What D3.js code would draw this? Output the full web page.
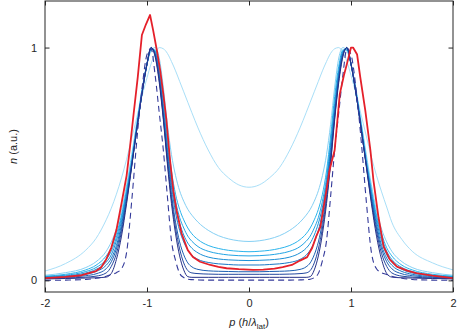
<!DOCTYPE html>
<html>
<head>
<meta charset="utf-8">
<script src="https://cdn.jsdelivr.net/npm/d3@7"></script>
<style>
  html, body { margin: 0; padding: 0; background: #fff; }
  svg { display: block; font-family: "Liberation Sans", Arial, sans-serif; }
</style>
</head>
<body>
<svg id="chart" width="458" height="333"></svg>
<script>
// ---- data ----
const pGrid = [-2, -1.8, -1.6, -1.5, -1.4, -1.35, -1.3, -1.25, -1.2, -1.15, -1.1, -1.05, -1.0, -0.96, -0.92, -0.88, -0.84, -0.8, -0.76, -0.72, -0.68, -0.64, -0.6, -0.56, -0.5, -0.4, -0.3, -0.2, -0.1, 0,
  0.1, 0.2, 0.3, 0.4, 0.5, 0.56, 0.6, 0.64, 0.68, 0.72, 0.76, 0.8, 0.84, 0.88, 0.92, 0.96, 1.0, 1.05, 1.1, 1.15, 1.2, 1.25, 1.3, 1.35, 1.4, 1.5, 1.6, 1.8, 2];

const curve0 = [0.04, 0.072, 0.13, 0.18, 0.26, 0.31, 0.37, 0.44, 0.52, 0.61, 0.70, 0.79, 0.87, 0.93, 0.975, 1.0, 0.995, 0.975, 0.94, 0.9, 0.855, 0.81, 0.765, 0.72, 0.655, 0.56, 0.485, 0.44, 0.41, 0.40,
  0.41, 0.44, 0.485, 0.56, 0.655, 0.72, 0.765, 0.81, 0.855, 0.9, 0.94, 0.975, 0.995, 1.0, 0.98, 0.94, 0.88, 0.8, 0.71, 0.62, 0.53, 0.45, 0.38, 0.315, 0.25, 0.175, 0.125, 0.075, 0.045];
const curve1 = [0.022, 0.033, 0.055, 0.08, 0.125, 0.165, 0.22, 0.30, 0.41, 0.54, 0.68, 0.82, 0.93, 0.985, 1.0, 0.955, 0.83, 0.67, 0.54, 0.45, 0.385, 0.34, 0.305, 0.28, 0.25, 0.215, 0.192, 0.178, 0.17, 0.167,
  0.17, 0.178, 0.192, 0.215, 0.25, 0.28, 0.305, 0.34, 0.385, 0.45, 0.54, 0.67, 0.83, 0.955, 1.0, 0.985, 0.93, 0.82, 0.68, 0.54, 0.41, 0.30, 0.22, 0.165, 0.125, 0.08, 0.055, 0.033, 0.022];
const curve2 = [0.018, 0.026, 0.045, 0.065, 0.105, 0.14, 0.2, 0.28, 0.39, 0.52, 0.67, 0.81, 0.93, 0.99, 0.99, 0.92, 0.79, 0.62, 0.47, 0.37, 0.305, 0.26, 0.225, 0.2, 0.175, 0.15, 0.137, 0.129, 0.125, 0.123,
  0.125, 0.129, 0.137, 0.15, 0.175, 0.2, 0.225, 0.26, 0.305, 0.37, 0.47, 0.62, 0.79, 0.92, 0.99, 0.99, 0.93, 0.81, 0.67, 0.52, 0.39, 0.28, 0.2, 0.14, 0.105, 0.065, 0.045, 0.026, 0.018];
const curve3 = [0.016, 0.022, 0.038, 0.055, 0.09, 0.125, 0.185, 0.27, 0.38, 0.51, 0.66, 0.81, 0.93, 0.995, 0.985, 0.9, 0.76, 0.59, 0.44, 0.34, 0.27, 0.225, 0.19, 0.168, 0.145, 0.125, 0.115, 0.109, 0.106, 0.105,
  0.106, 0.109, 0.115, 0.125, 0.145, 0.168, 0.19, 0.225, 0.27, 0.34, 0.44, 0.59, 0.76, 0.9, 0.985, 0.995, 0.93, 0.81, 0.66, 0.51, 0.38, 0.27, 0.185, 0.125, 0.09, 0.055, 0.038, 0.022, 0.016];
const curve4 = [0.014, 0.019, 0.032, 0.047, 0.078, 0.11, 0.17, 0.255, 0.37, 0.5, 0.65, 0.8, 0.925, 0.995, 0.98, 0.89, 0.74, 0.57, 0.42, 0.315, 0.245, 0.195, 0.16, 0.138, 0.118, 0.1, 0.092, 0.088, 0.086, 0.085,
  0.086, 0.088, 0.092, 0.1, 0.118, 0.138, 0.16, 0.195, 0.245, 0.315, 0.42, 0.57, 0.74, 0.89, 0.98, 0.995, 0.925, 0.8, 0.65, 0.5, 0.37, 0.255, 0.17, 0.11, 0.078, 0.047, 0.032, 0.019, 0.014];
const curve5 = [0.012, 0.016, 0.026, 0.038, 0.065, 0.095, 0.15, 0.24, 0.36, 0.5, 0.65, 0.8, 0.93, 1.0, 0.975, 0.88, 0.72, 0.55, 0.4, 0.29, 0.215, 0.165, 0.13, 0.108, 0.09, 0.077, 0.071, 0.068, 0.066, 0.066,
  0.066, 0.068, 0.071, 0.077, 0.09, 0.108, 0.13, 0.165, 0.215, 0.29, 0.4, 0.55, 0.72, 0.88, 0.975, 1.0, 0.93, 0.8, 0.65, 0.5, 0.36, 0.24, 0.15, 0.095, 0.065, 0.038, 0.026, 0.016, 0.012];
const curve6 = [0.01, 0.013, 0.02, 0.028, 0.05, 0.08, 0.135, 0.225, 0.35, 0.495, 0.65, 0.8, 0.93, 1.0, 0.97, 0.87, 0.71, 0.53, 0.37, 0.25, 0.165, 0.11, 0.075, 0.058, 0.047, 0.041, 0.039, 0.038, 0.037, 0.037,
  0.037, 0.038, 0.039, 0.041, 0.047, 0.058, 0.075, 0.11, 0.165, 0.25, 0.37, 0.53, 0.71, 0.87, 0.97, 1.0, 0.93, 0.8, 0.65, 0.495, 0.35, 0.225, 0.135, 0.08, 0.05, 0.028, 0.02, 0.013, 0.01];
const curve7 = [0.008, 0.01, 0.014, 0.018, 0.032, 0.06, 0.115, 0.21, 0.34, 0.49, 0.65, 0.8, 0.93, 1.0, 0.965, 0.86, 0.7, 0.51, 0.35, 0.225, 0.135, 0.075, 0.042, 0.032, 0.029, 0.027, 0.026, 0.026, 0.026, 0.026,
  0.026, 0.026, 0.026, 0.027, 0.029, 0.032, 0.042, 0.075, 0.135, 0.225, 0.35, 0.51, 0.7, 0.86, 0.965, 1.0, 0.93, 0.8, 0.65, 0.49, 0.34, 0.21, 0.115, 0.06, 0.032, 0.018, 0.014, 0.01, 0.008];
const curve8 = [0.006, 0.008, 0.01, 0.011, 0.014, 0.03, 0.09, 0.19, 0.33, 0.49, 0.65, 0.8, 0.93, 1.0, 0.96, 0.85, 0.69, 0.5, 0.33, 0.2, 0.105, 0.045, 0.016, 0.013, 0.013, 0.013, 0.013, 0.013, 0.013, 0.013,
  0.013, 0.013, 0.013, 0.013, 0.013, 0.013, 0.016, 0.045, 0.105, 0.2, 0.33, 0.5, 0.69, 0.85, 0.96, 1.0, 0.93, 0.8, 0.65, 0.49, 0.33, 0.19, 0.09, 0.03, 0.014, 0.011, 0.01, 0.008, 0.006];
const dashedCurve = [0.0, 0.001, 0.004, 0.009, 0.018, 0.025, 0.033, 0.05, 0.12, 0.34, 0.6, 0.82, 0.97, 0.995, 0.88, 0.72, 0.56, 0.36, 0.17, 0.085, 0.03, 0.012, 0.005, 0.003, 0.002, 0.001, 0.001, 0.001, 0.001, 0.001,
  0.001, 0.001, 0.001, 0.001, 0.002, 0.003, 0.005, 0.012, 0.03, 0.085, 0.17, 0.36, 0.56, 0.72, 0.88, 0.995, 0.97, 0.82, 0.6, 0.34, 0.12, 0.05, 0.033, 0.025, 0.018, 0.009, 0.004, 0.001, 0.0];

const redP = [-2, -1.8, -1.64, -1.5, -1.45, -1.4, -1.35, -1.3, -1.25, -1.2, -1.17, -1.13, -1.09, -1.05, -1.01, -0.97, -0.94, -0.9, -0.87, -0.84, -0.81, -0.775, -0.74, -0.71, -0.66, -0.6, -0.55, -0.48, -0.38, -0.3, -0.22, -0.1, 0.04, 0.14, 0.25, 0.33, 0.42, 0.5, 0.57, 0.62, 0.66, 0.7, 0.73, 0.76, 0.79, 0.84, 0.89, 0.93, 0.96, 1.0, 1.02, 1.06, 1.09, 1.14, 1.19, 1.22, 1.27, 1.32, 1.38, 1.45, 1.55, 1.64, 1.8, 2];
const redN = [0.01, 0.015, 0.022, 0.04, 0.055, 0.09, 0.14, 0.216, 0.33, 0.45, 0.56, 0.72, 0.875, 1.054, 1.1, 1.14, 1.075, 0.98, 0.9, 0.8, 0.69, 0.52, 0.38, 0.3, 0.2, 0.13, 0.1, 0.08, 0.066, 0.058, 0.052, 0.048, 0.045, 0.046, 0.05, 0.057, 0.066, 0.085, 0.1, 0.14, 0.19, 0.23, 0.31, 0.39, 0.474, 0.56, 0.8, 0.88, 0.93, 1.0, 1.0, 0.97, 0.875, 0.73, 0.56, 0.43, 0.27, 0.145, 0.09, 0.059, 0.042, 0.031, 0.02, 0.01];

const xTicks = [-2, -1, 0, 1, 2];
const yTicks = [0, 1];

(function () {
  // ---- styles ----
  const blueSeries = [curve0, curve1, curve2, curve3, curve4, curve5, curve6, curve7, curve8];
  const blueColors = ["#a9dff8", "#85d0f4", "#2ab4ec", "#22a4e4", "#1b8fd6", "#1a78c6", "#1d5fb2", "#22469e", "#263087"];

  const svg = d3.select("#chart");
  const mL = 45, mR = 453, mT = 1, mB = 292;
  const x = d3.scaleLinear().domain([-2, 2]).range([mL, mR]);
  const y = d3.scaleLinear().domain([-0.05, 1.2]).range([mB, mT]);

  svg.append("defs").append("clipPath").attr("id", "clip")
    .append("rect").attr("x", mL).attr("y", mT).attr("width", mR - mL).attr("height", mB - mT);

  const g = svg.append("g").attr("clip-path", "url(#clip)");
  const smooth = d3.line().x(d => x(d[0])).y(d => y(d[1])).curve(d3.curveMonotoneX);
  const straight = d3.line().x(d => x(d[0])).y(d => y(d[1]));

  blueSeries.forEach((vals, i) => {
    g.append("path")
      .attr("d", smooth(pGrid.map((p, j) => [p, vals[j]])))
      .attr("fill", "none").attr("stroke", blueColors[i]).attr("stroke-width", 1);
  });
  g.append("path")
    .attr("d", smooth(pGrid.map((p, j) => [p, dashedCurve[j]])))
    .attr("fill", "none").attr("stroke", "#33399a").attr("stroke-width", 1.1)
    .attr("stroke-dasharray", "6,4");
  g.append("path")
    .attr("d", straight(redP.map((p, j) => [p, redN[j]])))
    .attr("fill", "none").attr("stroke", "#e5202a").attr("stroke-width", 1.8)
    .attr("stroke-linejoin", "round");

  // ---- axes ----
  const axisColor = "#262626";
  const fmt = d => (d < 0 ? "-" + Math.abs(d) : String(d));
  const styleAxis = sel => {
    sel.select(".domain").remove();
    sel.selectAll("line").attr("stroke", axisColor);
    sel.selectAll("text").attr("fill", axisColor).style("font-size", "11px")
      .style("font-family", "'Liberation Sans', Arial, sans-serif");
  };
  svg.append("g").attr("transform", `translate(0,${mB})`)
    .call(d3.axisBottom(x).tickValues(xTicks).tickFormat(fmt).tickSizeInner(-4.5).tickSizeOuter(0).tickPadding(7))
    .call(styleAxis);
  svg.append("g").attr("transform", `translate(0,${mT})`)
    .call(d3.axisTop(x).tickValues(xTicks).tickFormat("").tickSizeInner(-4.5).tickSizeOuter(0))
    .call(styleAxis);
  svg.append("g").attr("transform", `translate(${mL},0)`)
    .call(d3.axisLeft(y).tickValues(yTicks).tickFormat(fmt).tickSizeInner(-4.5).tickSizeOuter(0).tickPadding(8))
    .call(styleAxis);
  svg.append("g").attr("transform", `translate(${mR},0)`)
    .call(d3.axisRight(y).tickValues(yTicks).tickFormat("").tickSizeInner(-4.5).tickSizeOuter(0))
    .call(styleAxis);

  svg.append("rect").attr("x", mL).attr("y", mT).attr("width", mR - mL).attr("height", mB - mT)
    .attr("fill", "none").attr("stroke", axisColor).attr("stroke-width", 1);

  // ---- axis labels ----
  const xl = svg.append("text").attr("x", (mL + mR) / 2).attr("y", 326)
    .attr("text-anchor", "middle").attr("fill", axisColor).style("font-size", "11px");
  xl.append("tspan").attr("font-style", "italic").text("p");
  xl.append("tspan").text(" (");
  xl.append("tspan").attr("font-style", "italic").text("h");
  xl.append("tspan").text("/");
  xl.append("tspan").attr("font-style", "italic").text("λ");
  xl.append("tspan").attr("dy", 3).style("font-size", "8px").text("lat");
  xl.append("tspan").attr("dy", -3).text(")");

  const yl = svg.append("text").attr("transform", `translate(17,${(mT + mB) / 2}) rotate(-90)`)
    .attr("text-anchor", "middle").attr("fill", axisColor).style("font-size", "11px");
  yl.append("tspan").attr("font-style", "italic").text("n");
  yl.append("tspan").text(" (a.u.)");
})();
</script>
</body>
</html>
